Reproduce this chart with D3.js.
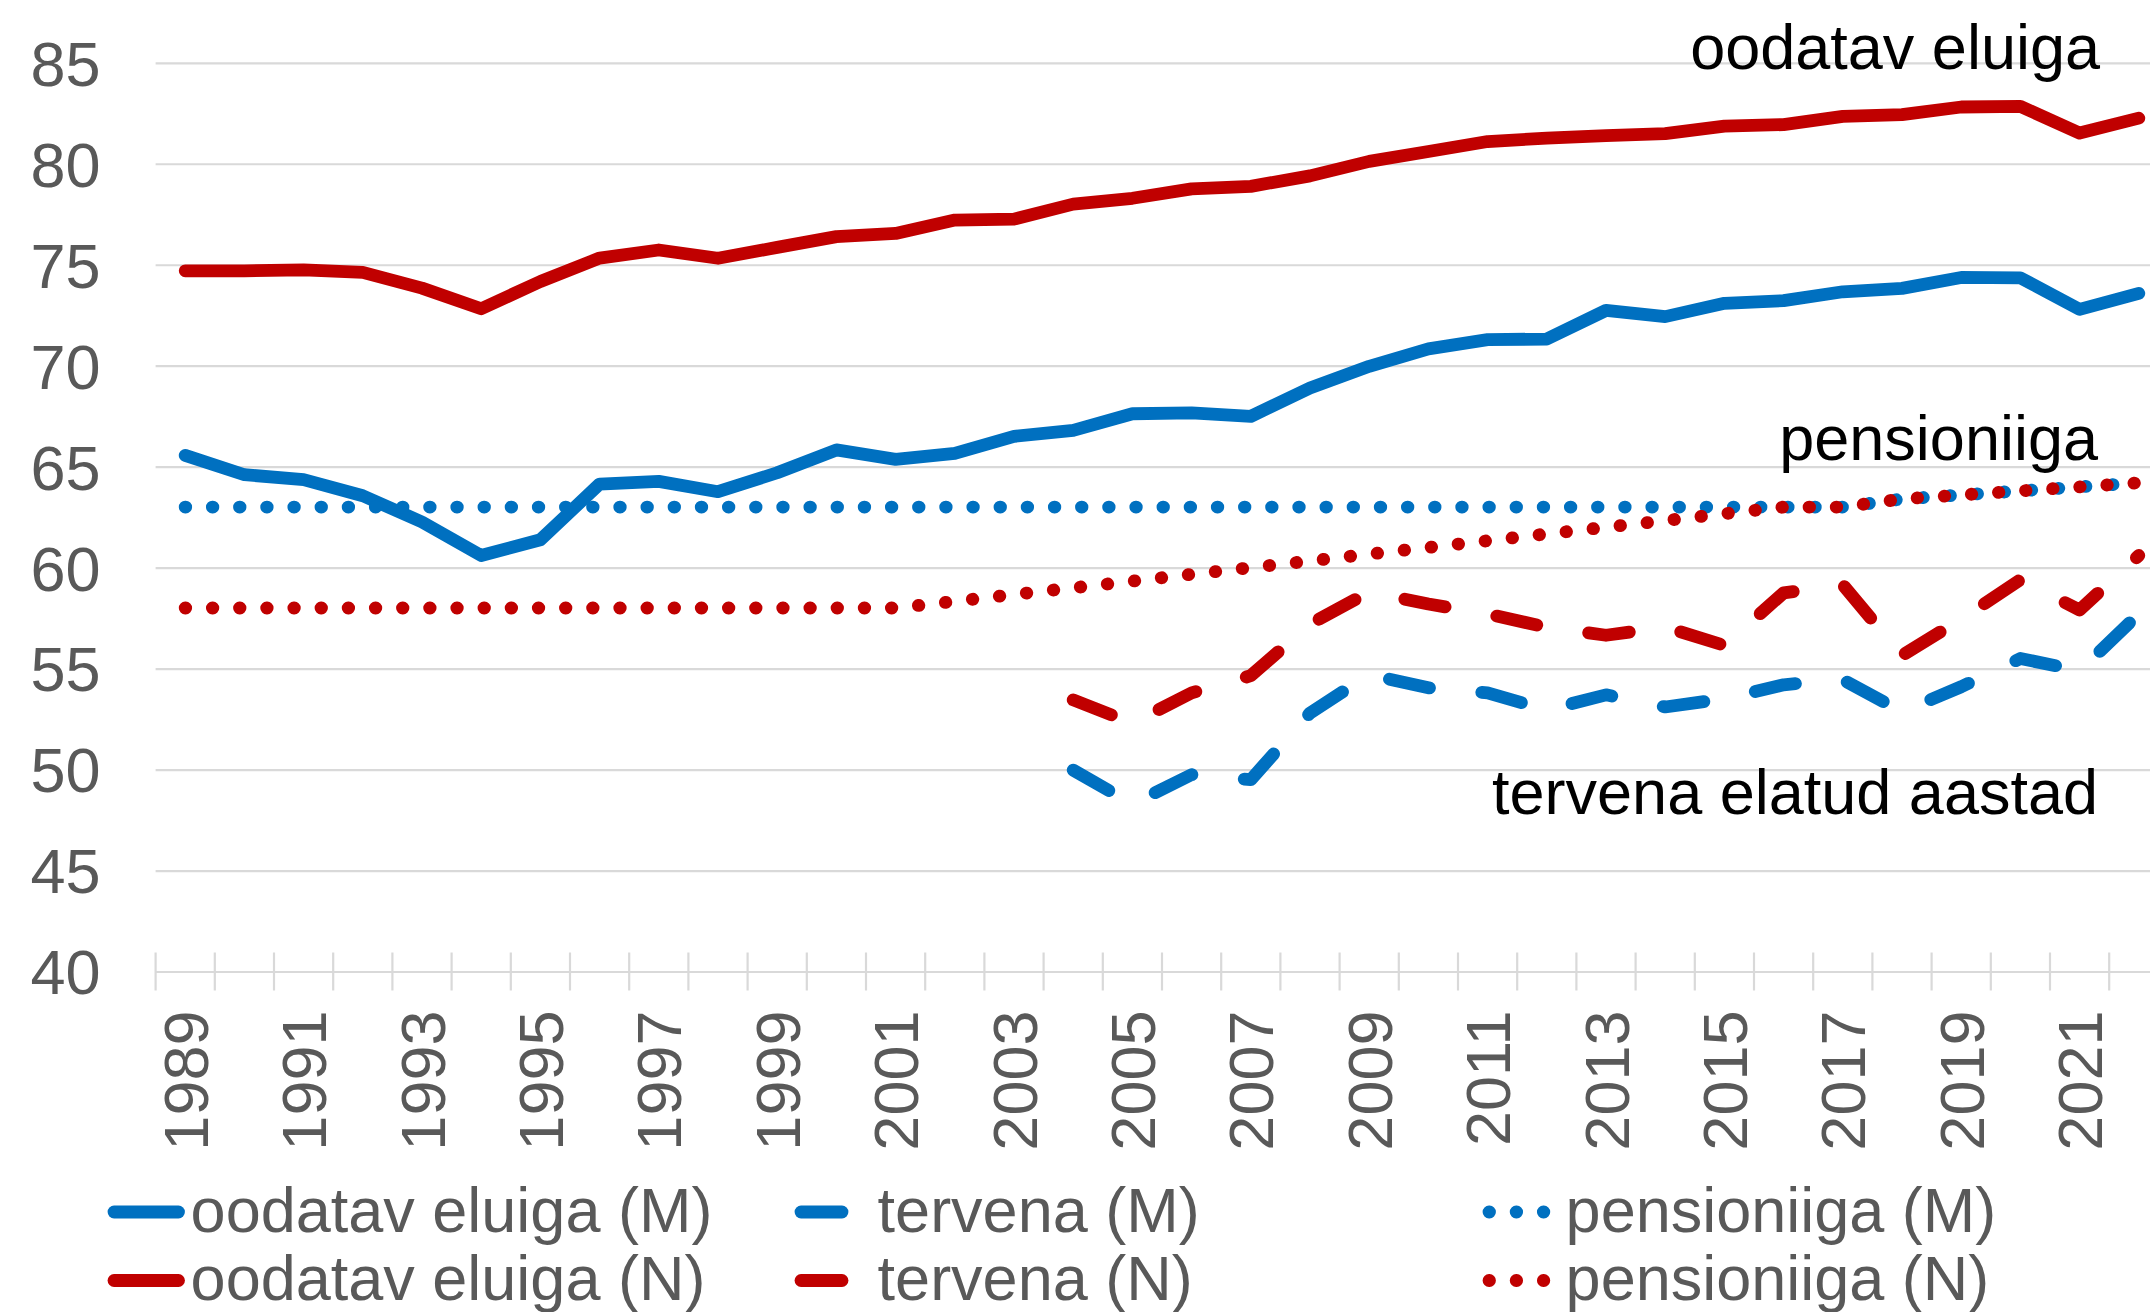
<!DOCTYPE html>
<html>
<head>
<meta charset="utf-8">
<script src="https://cdn.jsdelivr.net/npm/d3@7"></script>
<style>
html, body { margin: 0; padding: 0; background: #fff; }
svg { display: block; }
</style>
</head>
<body>
<svg id="chart" width="2150" height="1312"></svg>
<script>
// ---------- DATA ----------
const years = [1989,1990,1991,1992,1993,1994,1995,1996,1997,1998,1999,2000,2001,2002,2003,2004,2005,
               2006,2007,2008,2009,2010,2011,2012,2013,2014,2015,2016,2017,2018,2019,2020,2021,2022];
const labelYears = [1989,1991,1993,1995,1997,1999,2001,2003,2005,2007,2009,2011,2013,2015,2017,2019,2021];
const yTicks = [40,45,50,55,60,65,70,75,80,85];

// oodatav eluiga (M) – life expectancy, men
const lifeM = [65.56,64.60,64.36,63.56,62.26,60.60,61.38,64.14,64.27,63.76,64.70,65.83,65.36,65.66,66.50,66.80,67.62,
               67.66,67.49,68.90,69.97,70.83,71.29,71.32,72.74,72.43,73.09,73.22,73.66,73.83,74.37,74.35,72.79,73.58];
// oodatav eluiga (N) – life expectancy, women
const lifeF = [74.70,74.70,74.75,74.62,73.84,72.82,74.17,75.33,75.73,75.32,75.86,76.39,76.55,77.21,77.26,78.00,78.29,
               78.76,78.88,79.40,80.12,80.61,81.10,81.27,81.39,81.49,81.86,81.94,82.35,82.43,82.81,82.84,81.52,82.26];
// tervena (M) – healthy life years, men
const healthyM = [null,null,null,null,null,null,null,null,null,null,null,null,null,null,null,49.97,48.30,
                  49.75,49.50,52.80,54.70,54.05,53.80,52.95,53.70,53.10,53.50,54.20,54.45,52.87,54.10,55.50,54.90,57.70];
// tervena (N) – healthy life years, women
const healthyF = [null,null,null,null,null,null,null,null,null,null,null,null,null,null,null,53.45,52.30,
                  53.80,54.65,57.20,58.80,58.20,57.70,57.05,56.65,57.05,56.15,58.75,59.15,55.65,57.45,59.40,57.90,60.60];
// pensioniiga (M) – pension age, men
const pensionM = [63,63,63,63,63,63,63,63,63,63,63,63,63,63,63,63,63,
                  63,63,63,63,63,63,63,63,63,63,63,63,63.40,63.60,63.80,64.00,64.20];
// pensioniiga (N) – pension age, women
const pensionF = [58,58,58,58,58,58,58,58,58,58,58,58,58,58.33,58.67,59.00,59.33,
                  59.67,60.00,60.33,60.67,61.00,61.33,61.67,62.00,62.33,62.67,63.00,63,63.40,63.60,63.80,64.00,64.20];

// ---------- STYLE / LAYOUT ----------
const W = 2150, H = 1312;
const left = 155.6, band = 59.2;
const BLUE = "#0070c0", RED = "#c00000", GRID = "#d9d9d9", TXT = "#595959";
const FONT = "'Liberation Sans', Arial, Helvetica, sans-serif";
const LW = 12.8;
const DASH = { solid: null, dash: "41 52.5", dot: "0.5 26.66" };

const series = [
  { name: "oodatav eluiga (M)", values: lifeM,    color: BLUE, dash: "solid", col: 0, row: 0 },
  { name: "tervena (M)",        values: healthyM, color: BLUE, dash: "dash",  col: 1, row: 0 },
  { name: "pensioniiga (M)",    values: pensionM, color: BLUE, dash: "dot",   col: 2, row: 0 },
  { name: "oodatav eluiga (N)", values: lifeF,    color: RED,  dash: "solid", col: 0, row: 1 },
  { name: "tervena (N)",        values: healthyF, color: RED,  dash: "dash",  col: 1, row: 1 },
  { name: "pensioniiga (N)",    values: pensionF, color: RED,  dash: "dot",   col: 2, row: 1 }
];

const annotations = [
  { text: "oodatav eluiga", x: 2100, y: 69 },
  { text: "pensioniiga", x: 2098, y: 460 },
  { text: "tervena elatud aastad", x: 2098, y: 814 }
];

// ---------- SCALES ----------
const x = d3.scaleBand().domain(years).range([left, left + band * years.length]);
const y = d3.scaleLinear().domain([40, 85]).range([971.5, 62.8]);
const cx = d => x(d) + x.bandwidth() / 2;

const svg = d3.select("#chart");
svg.append("rect").attr("width", W).attr("height", H).attr("fill", "#fff");

// ---------- Y AXIS + GRID ----------
const gy = svg.append("g").attr("transform", `translate(${left},0)`)
  .call(d3.axisLeft(y).tickValues(yTicks).tickSize(-(W - left + 30)).tickPadding(55).tickFormat(d3.format("d")));
gy.select(".domain").remove();
gy.selectAll(".tick line").attr("stroke", GRID).attr("stroke-width", 2.2);
gy.selectAll(".tick text")
  .attr("fill", TXT).attr("dy", "0.355em")
  .style("font-family", FONT).style("font-size", "63px");

// ---------- X AXIS ----------
const axisY = y(40);
const boundaries = years.map(d => x(d)).concat([x(years[years.length - 1]) + x.bandwidth()]);
svg.append("g").selectAll("line").data(boundaries).join("line")
  .attr("x1", d => d).attr("x2", d => d)
  .attr("y1", axisY - 19).attr("y2", axisY + 19)
  .attr("stroke", GRID).attr("stroke-width", 2.2);

const gx = svg.append("g").attr("transform", `translate(0,${axisY})`)
  .call(d3.axisBottom(x).tickValues(labelYears).tickSize(0));
gx.select(".domain").remove();
gx.selectAll(".tick text")
  .attr("transform", "rotate(-90)")
  .attr("x", -39).attr("y", 0).attr("dy", "0.36em")
  .style("text-anchor", "end")
  .attr("fill", TXT)
  .style("font-family", FONT).style("font-size", "63px");

// ---------- LINES ----------
const line = d3.line()
  .defined(d => d.v != null)
  .x(d => cx(d.year))
  .y(d => y(d.v));

series.forEach(s => {
  const pts = years.map((yr, i) => ({ year: yr, v: s.values[i] }));
  svg.append("path")
    .datum(pts)
    .attr("d", line)
    .attr("fill", "none")
    .attr("stroke", s.color)
    .attr("stroke-width", LW)
    .attr("stroke-linecap", "round")
    .attr("stroke-linejoin", "round")
    .attr("stroke-dasharray", DASH[s.dash]);
});

// ---------- ANNOTATIONS ----------
svg.append("g").selectAll("text").data(annotations).join("text")
  .attr("x", d => d.x).attr("y", d => d.y)
  .attr("text-anchor", "end")
  .attr("fill", "#000")
  .style("font-family", FONT).style("font-size", "63px")
  .text(d => d.text);

// ---------- LEGEND ----------
const colX = [114, 801, 1489];
const rowBase = [1231.5, 1300];
const sampleLen = 64.5, textOff = 76.6;
const lg = svg.append("g").selectAll("g").data(series).join("g")
  .attr("transform", d => `translate(${colX[d.col]},${rowBase[d.row]})`);
lg.append("line")
  .attr("x1", 0).attr("x2", sampleLen)
  .attr("y1", -19.5).attr("y2", -19.5)
  .attr("stroke", d => d.color)
  .attr("stroke-width", LW)
  .attr("stroke-linecap", "round")
  .attr("stroke-dasharray", d => DASH[d.dash]);
lg.append("text")
  .attr("x", textOff).attr("y", 0)
  .attr("fill", TXT)
  .style("font-family", FONT).style("font-size", "63px")
  .text(d => d.name);
</script>
</body>
</html>
